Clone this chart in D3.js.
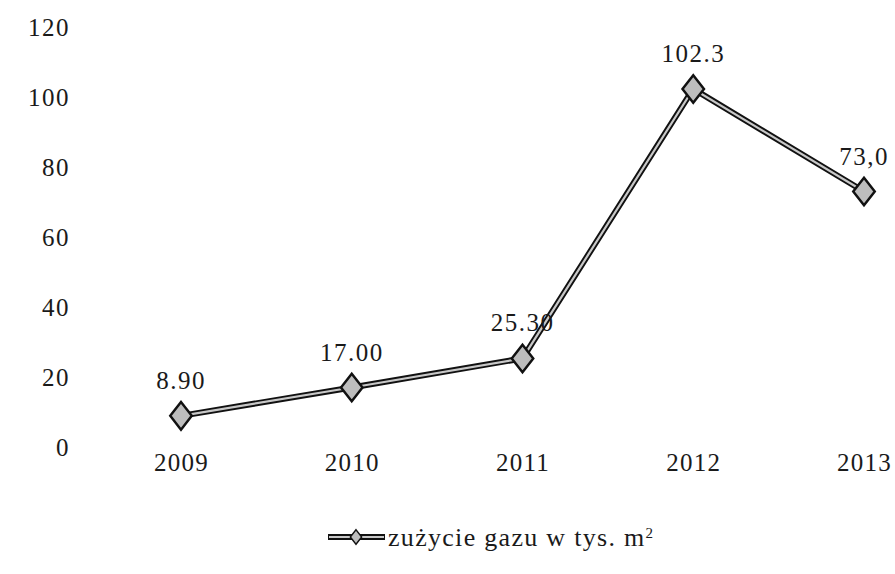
<!DOCTYPE html>
<html>
<head>
<meta charset="utf-8">
<script src="https://cdn.jsdelivr.net/npm/d3@7"></script>
<style>
  body { margin: 0; background: #fff; }
  text { font-family: "Liberation Serif", "DejaVu Serif", serif; fill: #1a1a1a; }
</style>
</head>
<body>
<div id="chart"></div>
<script>
var w = 895;
var h = 574;

var margin = { top: 27, bottom: 127, left: 95, right: 27 };

var width = w - margin.left - margin.right;
var height = h - margin.top - margin.bottom;

var years = ["2009", "2010", "2011", "2012", "2013"];
var values = [8.9, 17.0, 25.3, 102.3, 73.0];
var valueLabels = ["8.90", "17.00", "25.30", "102.3", "73,0"];
var yTicks = [0, 20, 40, 60, 80, 100, 120];
var seriesName = "zużycie gazu w tys. m";

var data = years.map(function (d, i) {
  return { year: d, value: values[i], label: valueLabels[i] };
});

var x = d3.scalePoint().domain(years).range([86, 769]);
var y = d3.scaleLinear().domain([0, 120]).range([height, 0]);

var svg = d3.select("#chart").append("svg")
  .attr("width", w)
  .attr("height", h);

var chart = svg.append("g")
  .attr("transform", "translate(" + margin.left + "," + margin.top + ")");

// y axis labels only, no line
var yAxis = chart.append("g")
  .call(d3.axisLeft(y).tickValues(yTicks).tickSize(0).tickPadding(25));
yAxis.select(".domain").remove();
yAxis.selectAll("text")
  .style("font-size", "25px")
  .style("letter-spacing", "1.5px")
  .attr("dy", "0.35em");

// x axis labels
var xAxis = chart.append("g")
  .attr("transform", "translate(0," + (height + 6) + ")")
  .call(d3.axisBottom(x).tickSize(0).tickPadding(0));
xAxis.select(".domain").remove();
xAxis.selectAll("text")
  .style("font-size", "25px")
  .style("letter-spacing", "1.2px")
  .attr("dy", "0.71em");

var line = d3.line()
  .x(function (d) { return x(d.year); })
  .y(function (d) { return y(d.value); });

// double-stroke line: dark outline, grey core
chart.append("path")
  .datum(data)
  .attr("d", line)
  .attr("fill", "none")
  .attr("stroke", "#111")
  .attr("stroke-width", 6)
  .attr("stroke-linejoin", "miter");
chart.append("path")
  .datum(data)
  .attr("d", line)
  .attr("fill", "none")
  .attr("stroke", "#c8c8c8")
  .attr("stroke-width", 2.2);

var diamond = d3.symbol().type(d3.symbolDiamond).size(220);

chart.selectAll(".marker")
  .data(data)
  .join("path")
  .attr("class", "marker")
  .attr("d", diamond)
  .attr("transform", function (d) {
    return "translate(" + x(d.year) + "," + y(d.value) + ") scale(1.35,1)";
  })
  .attr("fill", "#bdbdbd")
  .attr("stroke", "#111")
  .attr("stroke-width", 2);

chart.selectAll(".vlabel")
  .data(data)
  .join("text")
  .attr("class", "vlabel")
  .attr("x", function (d) { return x(d.year); })
  .attr("y", function (d) { return y(d.value) - 27; })
  .attr("text-anchor", "middle")
  .style("font-size", "25px")
  .style("letter-spacing", "1.5px")
  .text(function (d) { return d.label; });

// legend
var legend = svg.append("g").attr("transform", "translate(328,537)");
legend.append("line")
  .attr("x1", 0).attr("x2", 57).attr("y1", 0).attr("y2", 0)
  .attr("stroke", "#111").attr("stroke-width", 6);
legend.append("line")
  .attr("x1", 1).attr("x2", 56).attr("y1", 0).attr("y2", 0)
  .attr("stroke", "#c8c8c8").attr("stroke-width", 2.2);
legend.append("path")
  .attr("d", d3.symbol().type(d3.symbolDiamond).size(60))
  .attr("transform", "translate(28,0) scale(1.35,1)")
  .attr("fill", "#bdbdbd").attr("stroke", "#111").attr("stroke-width", 1.2);
var lt = legend.append("text")
  .attr("x", 60)
  .attr("dy", "0.35em")
  .style("font-size", "26px")
  .style("letter-spacing", "1.3px")
  .text(seriesName);
lt.append("tspan")
  .attr("dy", "-0.55em")
  .style("font-size", "15px")
  .text("2");
</script>
</body>
</html>
